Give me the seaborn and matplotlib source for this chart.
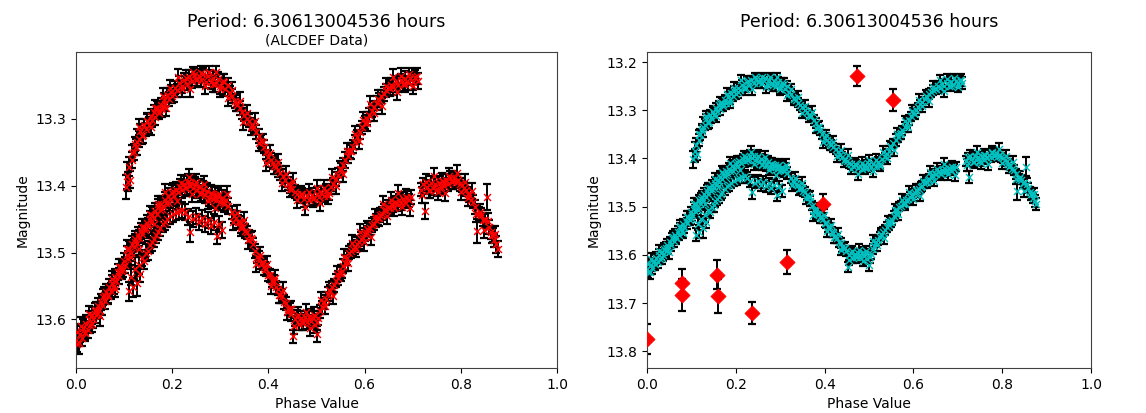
import matplotlib
matplotlib.use("Agg")
import matplotlib.pyplot as plt
import pandas as pd
import seaborn as sns

plt.rcParams["font.family"] = ["DejaVu Sans"]

PERIOD_TITLE = "Period: 6.30613004536 hours"
SUBTITLE = "(ALCDEF Data)"

# Lightcurve sessions: rows of (phase, magnitude, magnitude error)
session_a = [
    (0.104, 13.402, .018), (0.107, 13.385, .020), (0.110, 13.372, .014), (0.113, 13.391, .012),
    (0.116, 13.362, .012), (0.120, 13.350, .012), (0.123, 13.338, .010), (0.127, 13.335, .020),
    (0.130, 13.330, .012), (0.134, 13.318, .010), (0.137, 13.326, .012), (0.141, 13.310, .010),
    (0.145, 13.316, .010), (0.148, 13.303, .010), (0.152, 13.309, .012), (0.155, 13.296, .010),
    (0.158, 13.302, .010), (0.162, 13.290, .010), (0.165, 13.297, .012), (0.169, 13.284, .010),
    (0.172, 13.291, .010), (0.176, 13.279, .010), (0.179, 13.285, .012), (0.183, 13.272, .010),
    (0.186, 13.278, .010), (0.190, 13.265, .010), (0.193, 13.271, .010), (0.197, 13.260, .010),
    (0.200, 13.266, .010), (0.205, 13.254, .010), (0.210, 13.258, .010), (0.215, 13.247, .010),
    (0.220, 13.252, .010), (0.225, 13.242, .010), (0.230, 13.248, .010), (0.235, 13.238, .010),
    (0.241, 13.244, .010), (0.246, 13.235, .010), (0.250, 13.242, .010), (0.255, 13.236, .010),
    (0.260, 13.243, .010), (0.265, 13.234, .010), (0.270, 13.245, .010), (0.275, 13.237, .010),
    (0.280, 13.246, .010), (0.285, 13.239, .010), (0.290, 13.249, .012), (0.295, 13.241, .010),
    (0.300, 13.252, .012), (0.305, 13.244, .010), (0.310, 13.256, .010), (0.315, 13.250, .010),
    (0.320, 13.262, .010), (0.325, 13.266, .010), (0.330, 13.274, .010), (0.335, 13.279, .010),
    (0.340, 13.284, .010), (0.345, 13.290, .010), (0.350, 13.294, .010), (0.355, 13.300, .010),
    (0.360, 13.303, .010), (0.365, 13.309, .010), (0.370, 13.312, .010), (0.375, 13.320, .010),
    (0.380, 13.326, .010), (0.385, 13.334, .010), (0.390, 13.342, .010), (0.395, 13.350, .010),
    (0.400, 13.357, .010), (0.405, 13.362, .010), (0.410, 13.366, .010), (0.415, 13.372, .010),
    (0.420, 13.377, .010), (0.425, 13.381, .010), (0.430, 13.386, .010), (0.435, 13.392, .010),
    (0.440, 13.397, .010), (0.445, 13.401, .010), (0.450, 13.405, .010), (0.455, 13.409, .010),
    (0.460, 13.412, .010), (0.465, 13.416, .010), (0.470, 13.413, .010), (0.475, 13.420, .012),
    (0.480, 13.415, .010), (0.485, 13.421, .010), (0.490, 13.414, .010), (0.495, 13.419, .010),
    (0.500, 13.412, .010), (0.505, 13.417, .010), (0.510, 13.411, .010), (0.515, 13.415, .010),
    (0.520, 13.408, .010), (0.525, 13.411, .010), (0.530, 13.402, .010), (0.535, 13.398, .010),
    (0.540, 13.390, .010), (0.545, 13.384, .010), (0.550, 13.376, .010), (0.555, 13.369, .010),
    (0.560, 13.362, .012), (0.565, 13.356, .010), (0.570, 13.349, .010), (0.575, 13.342, .010),
    (0.580, 13.335, .010), (0.585, 13.327, .010), (0.590, 13.320, .010), (0.595, 13.313, .010),
    (0.600, 13.306, .010), (0.605, 13.300, .010), (0.610, 13.294, .010), (0.615, 13.288, .010),
    (0.620, 13.283, .010), (0.625, 13.277, .010), (0.630, 13.272, .010), (0.635, 13.267, .010),
    (0.640, 13.263, .010), (0.645, 13.258, .010), (0.650, 13.255, .010), (0.655, 13.250, .010),
    (0.660, 13.253, .012), (0.665, 13.246, .010), (0.670, 13.250, .010), (0.675, 13.243, .010),
    (0.680, 13.249, .010), (0.685, 13.241, .012), (0.690, 13.247, .010), (0.695, 13.240, .010),
    (0.700, 13.246, .012), (0.705, 13.238, .010), (0.710, 13.244, .012),
]

session_a2 = [
    (0.108, 13.394, .014), (0.116, 13.352, .012), (0.124, 13.343, .012), (0.132, 13.313, .012),
    (0.140, 13.325, .012), (0.148, 13.303, .012), (0.156, 13.313, .012), (0.164, 13.284, .012),
    (0.172, 13.287, .012), (0.180, 13.266, .012), (0.188, 13.284, .012), (0.196, 13.254, .012),
    (0.204, 13.263, .012), (0.212, 13.238, .012), (0.220, 13.256, .012), (0.228, 13.240, .012),
    (0.236, 13.256, .012), (0.244, 13.231, .008), (0.252, 13.241, .012), (0.260, 13.232, .010),
    (0.268, 13.252, .012), (0.276, 13.231, .009), (0.284, 13.248, .012), (0.292, 13.231, .009),
    (0.300, 13.256, .012), (0.308, 13.246, .012), (0.316, 13.269, .012), (0.324, 13.257, .012),
    (0.332, 13.277, .012), (0.340, 13.273, .012), (0.348, 13.305, .012), (0.356, 13.291, .012),
    (0.364, 13.313, .012), (0.372, 13.303, .012), (0.380, 13.336, .012), (0.388, 13.335, .012),
    (0.396, 13.366, .012), (0.404, 13.352, .012), (0.412, 13.371, .012), (0.420, 13.365, .012),
    (0.428, 13.396, .012), (0.436, 13.383, .012), (0.444, 13.405, .012), (0.452, 13.393, .012),
    (0.460, 13.421, .012), (0.468, 13.412, .012), (0.476, 13.432, .012), (0.484, 13.410, .012),
    (0.492, 13.420, .012), (0.500, 13.404, .012), (0.508, 13.426, .012), (0.516, 13.403, .012),
    (0.524, 13.415, .012), (0.532, 13.387, .012), (0.540, 13.400, .012), (0.548, 13.375, .012),
    (0.556, 13.383, .012), (0.564, 13.349, .012), (0.572, 13.348, .012), (0.580, 13.323, .012),
    (0.588, 13.334, .012), (0.596, 13.302, .012), (0.604, 13.307, .012), (0.612, 13.278, .012),
    (0.620, 13.292, .012), (0.628, 13.270, .012), (0.636, 13.281, .012), (0.644, 13.251, .012),
    (0.652, 13.255, .012), (0.660, 13.238, .012), (0.668, 13.260, .012), (0.676, 13.236, .012),
    (0.684, 13.249, .012), (0.692, 13.234, .010), (0.700, 13.251, .012), (0.708, 13.237, .012),
]

session_b = [
    (0.000, 13.630, .014), (0.003, 13.618, .012), (0.006, 13.635, .016), (0.009, 13.622, .012),
    (0.012, 13.628, .012), (0.015, 13.612, .012), (0.018, 13.620, .012), (0.021, 13.606, .012),
    (0.024, 13.615, .012), (0.027, 13.600, .012), (0.030, 13.608, .012), (0.033, 13.594, .012),
    (0.036, 13.600, .012), (0.039, 13.587, .012), (0.042, 13.593, .012), (0.045, 13.580, .012),
    (0.048, 13.586, .012), (0.051, 13.574, .012), (0.054, 13.579, .014), (0.057, 13.566, .012),
    (0.060, 13.572, .012), (0.063, 13.559, .012), (0.066, 13.565, .012), (0.069, 13.552, .012),
    (0.072, 13.558, .012), (0.075, 13.545, .012), (0.078, 13.550, .012), (0.081, 13.537, .012),
    (0.084, 13.543, .012), (0.087, 13.529, .012), (0.090, 13.535, .012), (0.093, 13.521, .012),
    (0.096, 13.527, .012), (0.099, 13.512, .012), (0.102, 13.518, .012), (0.105, 13.503, .012),
    (0.108, 13.509, .012), (0.111, 13.495, .012), (0.114, 13.500, .012), (0.117, 13.487, .012),
    (0.120, 13.492, .012), (0.123, 13.480, .012), (0.126, 13.486, .012), (0.129, 13.474, .012),
    (0.132, 13.479, .012), (0.135, 13.468, .012), (0.138, 13.473, .012), (0.141, 13.462, .012),
    (0.144, 13.467, .012), (0.147, 13.456, .012), (0.150, 13.461, .012), (0.153, 13.450, .012),
    (0.156, 13.455, .012), (0.159, 13.444, .012), (0.162, 13.449, .012), (0.165, 13.438, .012),
    (0.168, 13.443, .012), (0.171, 13.432, .012), (0.174, 13.437, .012), (0.177, 13.427, .012),
    (0.180, 13.431, .012), (0.184, 13.421, .012), (0.188, 13.426, .012), (0.192, 13.416, .012),
    (0.196, 13.420, .012), (0.200, 13.411, .012), (0.204, 13.415, .012), (0.208, 13.406, .012),
    (0.212, 13.410, .012), (0.216, 13.402, .012), (0.220, 13.406, .012), (0.224, 13.398, .012),
    (0.228, 13.403, .012), (0.232, 13.394, .012), (0.236, 13.400, .012), (0.240, 13.396, .012),
    (0.244, 13.403, .012), (0.248, 13.399, .012), (0.252, 13.407, .012), (0.256, 13.402, .012),
    (0.260, 13.411, .012), (0.264, 13.405, .012), (0.268, 13.414, .012), (0.272, 13.408, .012),
    (0.276, 13.418, .012), (0.280, 13.411, .012), (0.284, 13.420, .012), (0.288, 13.414, .012),
    (0.292, 13.422, .012), (0.296, 13.416, .012), (0.300, 13.424, .012), (0.304, 13.418, .012),
    (0.308, 13.427, .012), (0.312, 13.421, .012), (0.316, 13.430, .012),
]

session_b2 = [
    (0.002, 13.636, .012), (0.010, 13.609, .012), (0.018, 13.618, .012), (0.026, 13.592, .012),
    (0.034, 13.607, .012), (0.042, 13.586, .012), (0.050, 13.595, .014), (0.058, 13.563, .012),
    (0.066, 13.564, .012), (0.074, 13.540, .012), (0.082, 13.554, .012), (0.090, 13.521, .012),
    (0.098, 13.524, .012), (0.106, 13.494, .012), (0.114, 13.506, .012), (0.122, 13.484, .012),
    (0.130, 13.494, .012), (0.138, 13.462, .012), (0.146, 13.464, .012), (0.154, 13.442, .012),
    (0.162, 13.458, .012), (0.170, 13.428, .012), (0.178, 13.435, .012), (0.186, 13.409, .012),
    (0.194, 13.426, .012), (0.202, 13.408, .012), (0.210, 13.423, .012), (0.218, 13.396, .012),
    (0.226, 13.403, .012), (0.234, 13.387, .012), (0.242, 13.412, .012), (0.250, 13.394, .012),
    (0.258, 13.413, .012), (0.266, 13.397, .012), (0.274, 13.423, .012), (0.282, 13.412, .012),
    (0.290, 13.434, .012), (0.298, 13.413, .012), (0.306, 13.425, .012), (0.314, 13.413, .012),
]

session_c = [
    (0.110, 13.558, .014), (0.114, 13.536, .012), (0.118, 13.552, .014), (0.122, 13.525, .018),
    (0.126, 13.545, .020), (0.130, 13.518, .014), (0.134, 13.532, .012), (0.138, 13.508, .012),
    (0.142, 13.512, .012), (0.146, 13.500, .012), (0.150, 13.497, .014), (0.154, 13.489, .012),
    (0.158, 13.485, .012), (0.162, 13.480, .012), (0.166, 13.474, .012), (0.170, 13.470, .012),
    (0.175, 13.464, .012), (0.180, 13.458, .012), (0.185, 13.455, .012), (0.190, 13.450, .012),
    (0.196, 13.446, .012), (0.202, 13.443, .012), (0.208, 13.440, .012), (0.214, 13.438, .012),
    (0.220, 13.436, .012), (0.226, 13.440, .012), (0.232, 13.447, .012), (0.237, 13.470, .015),
    (0.244, 13.450, .012), (0.250, 13.446, .012), (0.256, 13.455, .012), (0.262, 13.449, .012),
    (0.268, 13.458, .012), (0.274, 13.452, .012), (0.280, 13.461, .012), (0.286, 13.455, .012),
    (0.293, 13.475, .013), (0.298, 13.458, .012), (0.304, 13.467, .012),
]

session_d = [
    (0.324, 13.440, .010), (0.328, 13.446, .010), (0.332, 13.448, .010), (0.336, 13.454, .010),
    (0.340, 13.455, .010), (0.344, 13.461, .010), (0.348, 13.462, .010), (0.352, 13.468, .010),
    (0.356, 13.470, .010), (0.360, 13.476, .010), (0.364, 13.479, .010), (0.368, 13.488, .010),
    (0.372, 13.498, .010), (0.376, 13.506, .010), (0.380, 13.508, .010), (0.384, 13.515, .010),
    (0.388, 13.516, .010), (0.392, 13.524, .010), (0.396, 13.525, .010), (0.400, 13.533, .010),
    (0.404, 13.534, .010), (0.408, 13.542, .010), (0.412, 13.543, .010), (0.416, 13.552, .010),
    (0.420, 13.554, .010), (0.424, 13.563, .012), (0.428, 13.565, .010), (0.432, 13.574, .010),
    (0.436, 13.576, .010), (0.440, 13.584, .010), (0.444, 13.585, .010), (0.448, 13.592, .010),
    (0.452, 13.625, .010), (0.456, 13.600, .010), (0.460, 13.596, .010), (0.464, 13.606, .010),
    (0.468, 13.598, .010), (0.472, 13.605, .010), (0.476, 13.597, .010), (0.480, 13.604, .010),
    (0.484, 13.596, .012), (0.488, 13.603, .010), (0.492, 13.598, .010), (0.496, 13.608, .012),
    (0.500, 13.622, .012), (0.504, 13.598, .010), (0.508, 13.588, .010), (0.512, 13.582, .010),
    (0.516, 13.574, .010), (0.520, 13.569, .010), (0.524, 13.562, .010), (0.528, 13.558, .010),
    (0.532, 13.552, .010), (0.536, 13.549, .010), (0.540, 13.542, .010), (0.544, 13.538, .010),
    (0.548, 13.531, .010), (0.552, 13.528, .010), (0.556, 13.520, .010), (0.560, 13.516, .012),
    (0.564, 13.508, .010), (0.568, 13.500, .010), (0.572, 13.498, .010), (0.576, 13.494, .010),
    (0.580, 13.492, .010), (0.584, 13.487, .010), (0.588, 13.485, .010), (0.592, 13.480, .010),
    (0.596, 13.478, .010), (0.600, 13.473, .010), (0.604, 13.471, .010), (0.608, 13.466, .010),
    (0.612, 13.464, .010), (0.616, 13.459, .010), (0.620, 13.457, .010), (0.624, 13.452, .010),
    (0.628, 13.449, .010), (0.632, 13.444, .010), (0.636, 13.442, .010), (0.640, 13.437, .010),
    (0.644, 13.436, .010), (0.648, 13.432, .010), (0.652, 13.433, .010), (0.656, 13.428, .010),
    (0.660, 13.430, .010), (0.664, 13.425, .010), (0.668, 13.428, .010), (0.672, 13.422, .010),
    (0.676, 13.426, .010), (0.680, 13.420, .010), (0.684, 13.424, .010), (0.688, 13.418, .010),
    (0.692, 13.422, .010), (0.696, 13.417, .010),
]

session_d2 = [
    (0.326, 13.455, .012), (0.334, 13.441, .012), (0.342, 13.463, .012), (0.350, 13.451, .012),
    (0.358, 13.482, .012), (0.366, 13.480, .012), (0.374, 13.517, .012), (0.382, 13.504, .012),
    (0.390, 13.522, .012), (0.398, 13.517, .012), (0.406, 13.550, .012), (0.414, 13.538, .012),
    (0.422, 13.563, .012), (0.430, 13.556, .012), (0.438, 13.589, .012), (0.446, 13.585, .012),
    (0.454, 13.610, .012), (0.462, 13.593, .012), (0.470, 13.604, .012), (0.478, 13.589, .012),
    (0.486, 13.612, .012), (0.494, 13.593, .012), (0.502, 13.604, .012), (0.510, 13.571, .012),
    (0.518, 13.580, .012), (0.526, 13.556, .012), (0.534, 13.565, .012), (0.542, 13.532, .012),
    (0.550, 13.531, .012), (0.558, 13.506, .012), (0.566, 13.516, .012), (0.574, 13.486, .012),
    (0.582, 13.495, .012), (0.590, 13.469, .012), (0.598, 13.485, .012), (0.606, 13.465, .012),
    (0.614, 13.477, .012), (0.622, 13.447, .012), (0.630, 13.449, .012), (0.638, 13.428, .012),
    (0.646, 13.446, .012), (0.654, 13.421, .012), (0.662, 13.433, .012), (0.670, 13.411, .012),
    (0.678, 13.432, .012), (0.686, 13.417, .012), (0.694, 13.434, .012),
]

session_e = [
    (0.718, 13.406, .010), (0.722, 13.398, .010), (0.726, 13.438, .012), (0.730, 13.402, .010),
    (0.734, 13.408, .010), (0.738, 13.396, .010), (0.742, 13.404, .010), (0.746, 13.398, .010),
    (0.750, 13.405, .010), (0.754, 13.396, .010), (0.758, 13.402, .010), (0.762, 13.393, .010),
    (0.766, 13.400, .010), (0.770, 13.392, .010), (0.774, 13.398, .010), (0.778, 13.389, .010),
    (0.782, 13.395, .010), (0.786, 13.388, .010), (0.790, 13.394, .010), (0.794, 13.392, .010),
    (0.798, 13.398, .010), (0.802, 13.399, .010), (0.806, 13.404, .010), (0.810, 13.406, .010),
    (0.814, 13.412, .010), (0.818, 13.414, .010), (0.822, 13.421, .010), (0.826, 13.424, .010),
    (0.830, 13.432, .010), (0.834, 13.468, .018), (0.838, 13.442, .010), (0.842, 13.444, .010),
    (0.846, 13.451, .010), (0.850, 13.452, .010), (0.854, 13.417, .019), (0.858, 13.462, .010),
    (0.862, 13.470, .010), (0.866, 13.474, .010), (0.870, 13.482, .010), (0.874, 13.488, .012),
    (0.877, 13.495, .012),
]

session_e2 = [
    (0.720, 13.414, .012), (0.728, 13.394, .012), (0.736, 13.407, .012), (0.744, 13.386, .012),
    (0.752, 13.409, .012), (0.760, 13.393, .012), (0.768, 13.411, .012), (0.776, 13.386, .012),
    (0.784, 13.393, .012), (0.792, 13.381, .012), (0.800, 13.410, .012), (0.808, 13.395, .012),
    (0.816, 13.418, .012), (0.824, 13.408, .012), (0.832, 13.442, .012), (0.840, 13.439, .012),
    (0.848, 13.467, .012), (0.856, 13.453, .012), (0.864, 13.474, .012), (0.872, 13.473, .012),
]

# Sparse comparison observations shown only in the second panel
extra_phase = [0.000, 0.079, 0.079, 0.157, 0.159, 0.237, 0.315, 0.396, 0.472, 0.553]
extra_mag = [13.774, 13.659, 13.683, 13.641, 13.686, 13.720, 13.614, 13.494, 13.229, 13.278]
extra_err = [0.031, 0.030, 0.033, 0.030, 0.035, 0.023, 0.025, 0.020, 0.020, 0.023]

sessions = [session_a, session_a2, session_b, session_b2, session_c,
            session_d, session_d2, session_e, session_e2]
frames = [pd.DataFrame(s, columns=["phase", "mag", "err"]).assign(session=i)
          for i, s in enumerate(sessions)]
curve = pd.concat(frames, ignore_index=True)
extra = pd.DataFrame({"phase": extra_phase, "mag": extra_mag, "err": extra_err})

W, H, DPI = 1146, 413, 100
fig = plt.figure(figsize=(W / DPI, H / DPI), dpi=DPI)
ax1 = fig.add_axes([76 / W, 1 - 368 / H, 481 / W, 316 / H])
ax2 = fig.add_axes([647 / W, 1 - 368 / H, 444 / W, 316 / H])

bar_kw = dict(fmt="none", ecolor="black", elinewidth=1.4, capsize=3.2, capthick=1.6, zorder=2)


def draw_curve(ax, marker_color):
    for _, df in curve.groupby("session"):
        ax.errorbar(df["phase"], df["mag"], yerr=df["err"], **bar_kw)
    sns.scatterplot(data=curve, x="phase", y="mag", marker="x", color=marker_color,
                    s=25, linewidth=1.0, legend=False, ax=ax, zorder=3)


draw_curve(ax1, "red")
draw_curve(ax2, (0.0, 0.75, 0.75))

ax2.errorbar(extra["phase"], extra["mag"], yerr=extra["err"], **bar_kw)
sns.scatterplot(data=extra, x="phase", y="mag", marker="D", color="red", s=60,
                edgecolor="red", linewidth=0.5, legend=False, ax=ax2, zorder=4)

for ax in (ax1, ax2):
    ax.set_xlim(0, 1)
    ax.invert_yaxis()
    ax.set_xlabel("Phase Value", fontsize=10)
    ax.set_ylabel("Magnitude", fontsize=10)
    ax.set_title(PERIOD_TITLE, fontsize=12.5, pad=18)
    ax.tick_params(labelsize=10)
    for sp in ax.spines.values():
        sp.set_color("0.25")

ax1.text(0.5, 1 + 8 / 316, SUBTITLE, transform=ax1.transAxes,
         ha="center", va="baseline", fontsize=10)

fig.savefig("out.png", dpi=DPI)
